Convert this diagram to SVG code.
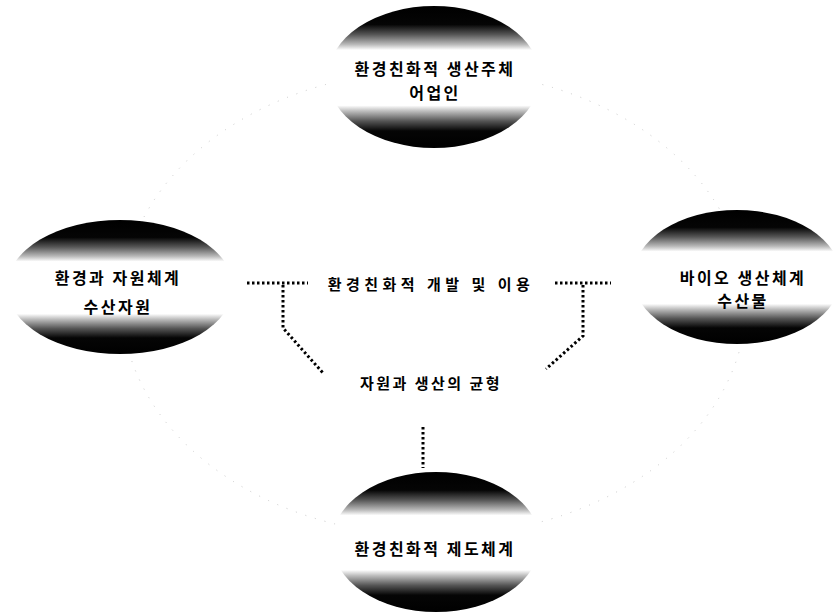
<svg xmlns="http://www.w3.org/2000/svg" width="838" height="614" viewBox="0 0 838 614">
<defs>
<linearGradient id="band" x1="0" y1="0" x2="0" y2="1">
<stop offset="0" stop-color="#000"/>
<stop offset="0.13" stop-color="#050505"/>
<stop offset="0.20" stop-color="#555"/>
<stop offset="0.27" stop-color="#b8b8b8"/>
<stop offset="0.31" stop-color="#fff"/>
<stop offset="0.70" stop-color="#fff"/>
<stop offset="0.74" stop-color="#bdbdbd"/>
<stop offset="0.81" stop-color="#555"/>
<stop offset="0.88" stop-color="#050505"/>
<stop offset="1" stop-color="#000"/>
</linearGradient>
<style>
.node{fill:url(#band);}
.lbl{font-family:"Noto Sans CJK KR","Noto Sans",sans-serif;font-size:16px;font-weight:bold;letter-spacing:2.5px;fill:#000;text-anchor:middle;dominant-baseline:central;}
.mid{font-family:"Noto Sans CJK KR","Noto Sans",sans-serif;font-size:15px;font-weight:bold;fill:#000;text-anchor:middle;dominant-baseline:central;}
.dot{fill:none;stroke:#000;stroke-width:3;stroke-dasharray:2.5 2.5;}
.halo{fill:none;stroke:#c8c8c8;stroke-width:1;stroke-dasharray:1 9;}
</style>
</defs>
<rect width="838" height="614" fill="#fff"/>
<ellipse class="halo" cx="434" cy="303" rx="312" ry="233"/>
<g id="connectors">
<path class="dot" d="M247 283 H308"/>
<path class="dot" d="M283 285 V328 L323 373"/>
<path class="dot" d="M555 283 H611"/>
<path class="dot" d="M583 285 V336 L546 369"/>
<path class="dot" d="M423 427 V468"/>
</g>
<g id="node-top">
<ellipse class="node" cx="434" cy="77" rx="106" ry="71"/>
<text class="lbl" x="435" y="68">환경친화적 생산주체</text>
<text class="lbl" x="435" y="92">어업인</text>
</g>
<g id="node-left">
<ellipse class="node" cx="120" cy="287" rx="113" ry="67"/>
<text class="lbl" x="118" y="277">환경과 자원체계</text>
<text class="lbl" x="118" y="306">수산자원</text>
</g>
<g id="node-right">
<ellipse class="node" cx="737" cy="277" rx="104" ry="67"/>
<text class="lbl" x="743" y="277">바이오 생산체계</text>
<text class="lbl" x="743" y="300">수산물</text>
</g>
<g id="node-bottom">
<ellipse class="node" cx="436" cy="542" rx="104" ry="70"/>
<text class="lbl" x="435" y="548">환경친화적 제도체계</text>
</g>
<g id="center-labels">
<text class="mid" x="431" y="283" letter-spacing="4.5">환경친화적 개발 및 이용</text>
<text class="mid" x="431" y="382" letter-spacing="2.5">자원과 생산의 균형</text>
</g>
</svg>
